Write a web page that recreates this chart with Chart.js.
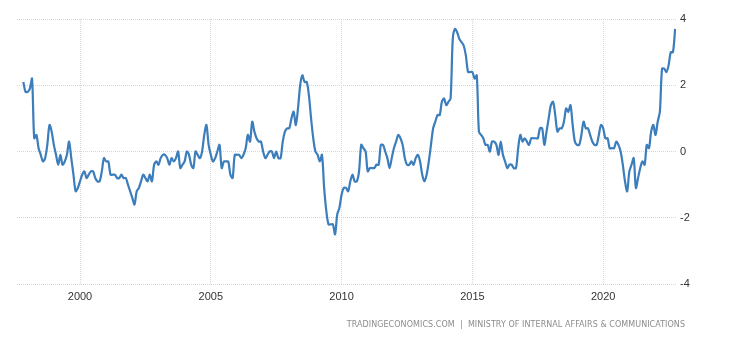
<!DOCTYPE html>
<html>
<head>
<meta charset="utf-8">
<title>Japan Inflation Rate</title>
<script src="https://cdn.jsdelivr.net/npm/chart.js@4/dist/chart.umd.min.js"></script>
<style>
  html, body { margin: 0; padding: 0; background: #ffffff; }
  #wrap { position: relative; width: 730px; height: 340px; }
</style>
</head>
<body>
<div id="wrap"><canvas id="chart"></canvas></div>
<script>
// Japan consumer price inflation, year-on-year %, monthly from Nov 1997 to Oct 2022
const firstYear = 1997;
const firstMonth = 11;

const cpiYoY = [
  2.1, 1.8,                                                    // 1997 Nov-Dec
  1.8, 1.9, 2.2, 0.4, 0.5, 0.1, -0.1, -0.3, -0.2, 0.2, 0.8, 0.6,   // 1998
  0.2, -0.1, -0.4, -0.1, -0.4, -0.3, -0.1, 0.3, -0.2, -0.7, -1.2, -1.1, // 1999
  -0.9, -0.7, -0.6, -0.8, -0.7, -0.6, -0.6, -0.8, -0.9, -0.9, -0.6, -0.2, // 2000
  -0.3, -0.3, -0.7, -0.7, -0.7, -0.8, -0.8, -0.7, -0.8, -0.8, -1.0, -1.2, // 2001
  -1.4, -1.6, -1.2, -1.1, -0.9, -0.7, -0.8, -0.9, -0.7, -0.9, -0.4, -0.3, // 2002
  -0.4, -0.2, -0.1, -0.1, -0.2, -0.4, -0.2, -0.3, -0.2, 0.0, -0.5, -0.4,  // 2003
  -0.3, 0.0, -0.1, -0.4, -0.5, 0.0, -0.1, -0.2, 0.0, 0.5, 0.8, 0.2,      // 2004
  -0.1, -0.3, -0.2, 0.0, 0.2, -0.5, -0.3, -0.3, -0.3, -0.7, -0.8, -0.1,  // 2005
  -0.1, -0.1, -0.2, -0.1, 0.1, 0.5, 0.3, 0.9, 0.6, 0.4, 0.3, 0.3,        // 2006
  0.0, -0.2, -0.1, 0.0, 0.0, -0.2, 0.0, -0.2, -0.2, 0.3, 0.6, 0.7,       // 2007
  0.7, 1.0, 1.2, 0.8, 1.3, 2.0, 2.3, 2.1, 2.1, 1.7, 1.0, 0.4,            // 2008
  0.0, -0.1, -0.3, -0.1, -1.1, -1.8, -2.2, -2.2, -2.2, -2.5, -1.9, -1.7, // 2009
  -1.3, -1.1, -1.1, -1.2, -0.9, -0.7, -0.9, -0.9, -0.6, 0.2, 0.1, 0.0,   // 2010
  -0.6, -0.5, -0.5, -0.5, -0.4, -0.4, 0.2, 0.2, 0.0, -0.2, -0.5, -0.2,   // 2011
  0.1, 0.3, 0.5, 0.4, 0.2, -0.2, -0.4, -0.4, -0.3, -0.4, -0.2, -0.1,     // 2012
  -0.3, -0.7, -0.9, -0.7, -0.3, 0.2, 0.7, 0.9, 1.1, 1.1, 1.5, 1.6,       // 2013
  1.4, 1.5, 1.6, 3.4, 3.7, 3.6, 3.4, 3.3, 3.2, 2.9, 2.4, 2.4,            // 2014
  2.4, 2.2, 2.3, 0.6, 0.5, 0.4, 0.2, 0.2, 0.0, 0.3, 0.3, 0.2,            // 2015
  -0.1, 0.3, -0.1, -0.3, -0.5, -0.4, -0.4, -0.5, -0.5, 0.1, 0.5, 0.3,    // 2016
  0.4, 0.3, 0.2, 0.4, 0.4, 0.4, 0.4, 0.7, 0.7, 0.2, 0.6, 1.0,            // 2017
  1.4, 1.5, 1.1, 0.6, 0.7, 0.7, 0.9, 1.3, 1.2, 1.4, 0.8, 0.3,            // 2018
  0.2, 0.2, 0.5, 0.9, 0.7, 0.7, 0.5, 0.3, 0.2, 0.2, 0.5, 0.8,            // 2019
  0.7, 0.4, 0.4, 0.1, 0.1, 0.1, 0.3, 0.2, 0.0, -0.4, -0.9, -1.2,         // 2020
  -0.6, -0.4, -0.2, -1.1, -0.8, -0.5, -0.3, -0.4, 0.2, 0.1, 0.6, 0.8,    // 2021
  0.5, 0.9, 1.2, 2.5, 2.5, 2.4, 2.6, 3.0, 3.0, 3.7                       // 2022 Jan-Oct
];

// Years labelled along the bottom axis, and the value ticks on the right
const yearLabels = [2000, 2005, 2010, 2015, 2020];
const valueTicks = [-4, -2, 0, 2, 4];
const sourceNote = 'TRADINGECONOMICS.COM  |  MINISTRY OF INTERNAL AFFAIRS & COMMUNICATIONS';

// Month index of each January that carries a year label
const yearTickIndex = yearLabels.map(y => (y - firstYear) * 12 + (1 - firstMonth));
const points = cpiYoY.map((v, i) => ({ x: i, y: v }));

const gridColor = '#d6d6d6';

const sourcePlugin = {
  id: 'sourceNote',
  afterDraw(chart) {
    const ctx = chart.ctx;
    ctx.save();
    ctx.font = '8px "DejaVu Sans", sans-serif';
    ctx.fillStyle = '#8c8c8c';
    ctx.textBaseline = 'middle';
    ctx.textAlign = 'right';
    const target = 338;
    const w = ctx.measureText(sourceNote).width;
    const gap = (target - w) / (sourceNote.length - 1);
    if ('letterSpacing' in ctx && gap > 0) {
      ctx.letterSpacing = gap.toFixed(2) + 'px';
    }
    ctx.fillText(sourceNote, 685 + (gap > 0 ? gap : 0), 325);
    ctx.restore();
  }
};

new Chart(document.getElementById('chart'), {
  type: 'line',
  data: {
    datasets: [{
      data: points,
      borderColor: '#3c7dbb',
      borderWidth: 2.2,
      pointRadius: 0,
      tension: 0.3,
      fill: false
    }]
  },
  options: {
    responsive: true,
    maintainAspectRatio: false,
    animation: false,
    layout: { padding: { left: 17, top: 19, right: 0, bottom: 0 } },
    plugins: {
      legend: { display: false },
      tooltip: { enabled: false }
    },
    scales: {
      x: {
        type: 'linear',
        min: -2.9,
        max: 299.4,
        afterBuildTicks(axis) {
          axis.ticks = yearTickIndex.map(v => ({ value: v }));
        },
        afterFit(axis) { axis.height = 56; },
        ticks: {
          autoSkip: false,
          maxRotation: 0,
          padding: 6,
          color: '#333333',
          font: { family: '"Liberation Sans", Arial, sans-serif', size: 11 },
          callback(value) {
            const k = yearTickIndex.indexOf(value);
            return k >= 0 ? String(yearLabels[k]) : '';
          }
        },
        grid: { color: gridColor, lineWidth: 1, drawTicks: false },
        border: { display: false, dash: [1, 1] }
      },
      y: {
        position: 'right',
        min: -4,
        max: 4,
        afterBuildTicks(axis) {
          axis.ticks = valueTicks.map(v => ({ value: v }));
        },
        afterFit(axis) { axis.width = 54; },
        ticks: {
          padding: 4,
          color: '#333333',
          font: { family: '"Liberation Sans", Arial, sans-serif', size: 11 }
        },
        grid: { color: gridColor, lineWidth: 1, drawTicks: false },
        border: { display: false, dash: [1, 1] }
      }
    }
  },
  plugins: [sourcePlugin]
});
</script>
</body>
</html>
